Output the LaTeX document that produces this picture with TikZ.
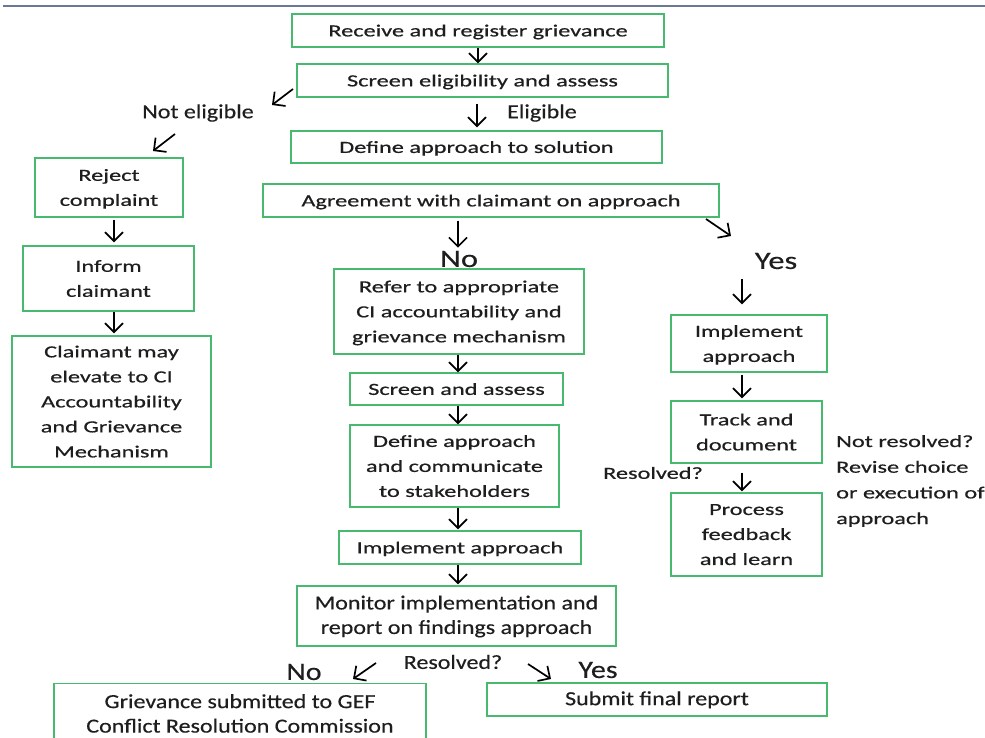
\documentclass[tikz,border=0pt]{standalone}
\usepackage{fontspec}
\usetikzlibrary{arrows.meta}
\newfontfamily\widefont[FakeStretch=1.43,FakeBold=0.6]{Carlito}
\newfontfamily\condfont[FakeStretch=1.2,FakeBold=0.4]{Carlito}
\newfontfamily\bigfont[FakeStretch=1.3,FakeBold=0.4]{Carlito}
\definecolor{boxgreen}{RGB}{72,186,112}
\definecolor{txt}{RGB}{30,30,30}
\definecolor{topline}{RGB}{105,120,150}
\tikzset{
  box/.style={draw=boxgreen, line width=1.3pt, align=center, inner sep=0pt, text=txt,
              text depth=-1.5pt,
              font=\widefont\fontsize{17}{25}\selectfont},
  cbox/.style={box, text depth=2.5pt, font=\condfont\fontsize{20}{24.5}\selectfont},
  lbl/.style={text=txt, inner sep=0pt, font=\widefont\fontsize{17}{25.7}\selectfont},
  clbl/.style={text=txt, inner sep=0pt, font=\condfont\fontsize{20}{24}\selectfont},
  biglbl/.style={text=txt, inner sep=0pt, font=\bigfont\fontsize{25}{25}\selectfont},
  arr/.style={line width=1.7pt, -{Straight Barb[length=9pt,width=18pt]}}
}
\begin{document}
\begin{tikzpicture}[x=1pt,y=-1pt]
\useasboundingbox (0,0) rectangle (985,738);
\draw[topline, line width=2.6pt] (3,6) -- (985,6);

% main column
\node[box, minimum width=372, minimum height=33] (b1) at (478,30.5) {Receive and register grievance};
\node[box, minimum width=371, minimum height=33] (b2) at (482.5,80.5) {Screen eligibility and assess};
\node[box, minimum width=371, minimum height=32] (b3) at (476.5,147) {Define approach to solution};
\node[box, minimum width=456, minimum height=33] (b4) at (491,200.5) {Agreement with claimant on approach};

% left column
\node[box, minimum width=148, minimum height=59] (l1) at (109,187.5) {Reject\\complaint};
\node[box, minimum width=171, minimum height=65] (l2) at (108.5,278.5) {Inform\\claimant};
\node[box, minimum width=199, minimum height=131] (l3) at (111.5,401.5) {Claimant may\\elevate to CI\\Accountability\\and Grievance\\Mechanism};

% middle column
\node[box, minimum width=250, minimum height=85] (m1) at (459,311.5) {Refer to appropriate\\CI accountability and\\grievance mechanism};
\node[box, minimum width=213, minimum height=32] (m2) at (456.5,389) {Screen and assess};
\node[box, minimum width=209, minimum height=82] (m3) at (454.5,466) {Define approach\\and communicate\\to stakeholders};
\node[box, minimum width=242, minimum height=33] (m4) at (460,547.5) {Implement approach};
\node[cbox, minimum width=319, minimum height=60] (m5) at (456.5,616) {Monitor implementation and\\report on findings approach};

% right column
\node[box, minimum width=156, minimum height=57] (r1) at (749,343.5) {Implement\\approach};
\node[box, minimum width=151, minimum height=62] (r2) at (746.5,432) {Track and\\document};
\node[box, minimum width=151, minimum height=83] (r3) at (746.5,534.5) {Process\\feedback\\and learn};

% bottom
\node[cbox, minimum width=372, minimum height=62, anchor=north] (g1) at (240,683) {Grievance submitted to GEF\\Conflict Resolution Commission};
\node[cbox, minimum width=340, minimum height=33] (g2) at (657,699.5) {Submit final report};

% labels
\node[clbl] (ne) at (198,113) {Not eligible};
\node[clbl] (el) at (542,113) {Eligible};
\node[biglbl] (no1) at (459,259) {No};
\node[biglbl] (yes1) at (776,261) {Yes};
\node[lbl] (res1) at (653,473) {Resolved?};
\node[lbl, anchor=north west, align=left] (nr) at (836,435) {Not resolved?\\Revise choice\\or execution of\\approach};
\node[biglbl, font=\condfont\fontsize{25}{25}\selectfont] (no2) at (304,672) {No};
\node[clbl] (res2) at (453,662) {Resolved?};
\node[biglbl, font=\condfont\fontsize{25}{25}\selectfont] (yes2) at (598,670) {Yes};

% column coordinates
\coordinate (cm) at (458,0);
\coordinate (cl) at (114,0);
\coordinate (cr) at (742,0);
\coordinate (ce) at (477,0);

% connectors
\draw[arr] (b1.south) -- (b2.north -| b1.south);
\draw[arr, shorten <=6pt, shorten >=3pt] (b2.south -| ce) -- (b3.north -| ce);
\coordinate (d1a) at (293,89); \coordinate (d1b) at (272,105);
\draw[arr] (d1a) -- (d1b);
\coordinate (d2a) at (175,134); \coordinate (d2b) at (153,151);
\draw[arr] (d2a) -- (d2b);
\draw[arr, shorten <=2pt, shorten >=3pt] (l1.south -| cl) -- (l2.north -| cl);
\draw[arr, shorten >=2pt] (l2.south -| cl) -- (l3.north -| cl);

\draw[arr, shorten <=3pt, shorten >=3pt] (b4.south -| cm) -- (no1.north -| cm);
\coordinate (d3a) at (706,219); \coordinate (d3b) at (731,236);
\draw[arr] (d3a) -- (d3b);
\draw[arr, shorten <=10pt, shorten >=10pt] (yes1.south -| cr) -- (r1.north -| cr);
\draw[arr, shorten <=2pt, shorten >=2pt] (r1.south -| cr) -- (r2.north -| cr);
\draw[arr, shorten <=9pt, shorten >=1pt] (r2.south -| cr) -- (r3.north -| cr);

\draw[arr] (m1.south -| cm) -- (m2.north -| cm);
\draw[arr] (m2.south -| cm) -- (m3.north -| cm);
\draw[arr, shorten >=1pt] (m3.south -| cm) -- (m4.north -| cm);
\draw[arr, shorten >=1pt] (m4.south -| cm) -- (m5.north -| cm);

\coordinate (d4a) at (376,663); \coordinate (d4b) at (353,679);
\draw[arr] (d4a) -- (d4b);
\coordinate (d5a) at (528,664); \coordinate (d5b) at (551,679);
\draw[arr] (d5a) -- (d5b);
\end{tikzpicture}
\end{document}
